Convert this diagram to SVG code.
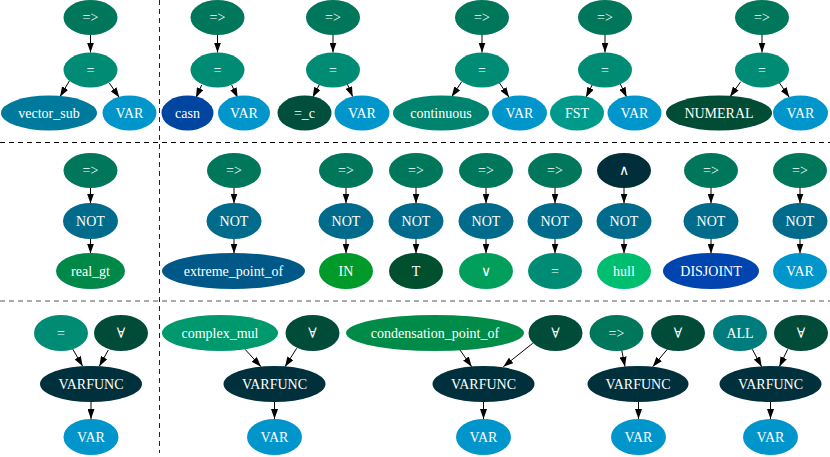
<svg xmlns="http://www.w3.org/2000/svg" width="830" height="457" viewBox="0 0 830 457" font-family="Liberation Serif" font-size="14">
<defs>
<marker id="ah" markerWidth="10" markerHeight="7" refX="10" refY="3.5" orient="auto" markerUnits="userSpaceOnUse">
<path d="M0,0 L10,3.5 L0,7 z" fill="#000"/>
</marker>
<style>
text{fill:#fff;text-anchor:middle;dominant-baseline:central;font-family:'Liberation Serif','DejaVu Serif',serif}
.e line{stroke:#000;stroke-width:1;marker-end:url(#ah)}
.sep{stroke-width:1;stroke-dasharray:5,4;fill:none}
.imp{fill:#00775a}.eq{fill:#008c74}.var{fill:#0096cc}.not{fill:#006b8a}.vf{fill:#00303c}.all{fill:#004c38}
</style>
</defs>
<g id="separators">
<line class="sep" stroke="#222" x1="159.5" y1="0" x2="159.5" y2="453"/>
<line class="sep" stroke="#000" x1="0" y1="142.5" x2="830" y2="142.5"/>
<line class="sep" stroke="#555" x1="0" y1="301" x2="830" y2="301"/>
</g>
<g class="e" id="connectors">
<line x1="90.5" y1="35" x2="90.5" y2="52.5"/>
<line x1="69.3" y1="81" x2="60" y2="96.7"/>
<line x1="109.3" y1="83" x2="119.3" y2="97.5"/>
<line x1="217.5" y1="35" x2="217.5" y2="52.5"/>
<line x1="201.7" y1="85" x2="196" y2="97.7"/>
<line x1="231.7" y1="85" x2="237.7" y2="97.7"/>
<line x1="333" y1="35" x2="333" y2="52.5"/>
<line x1="320" y1="83.3" x2="312.7" y2="97.3"/>
<line x1="347.3" y1="84" x2="352.7" y2="96.7"/>
<line x1="482" y1="35" x2="482" y2="52.5"/>
<line x1="461.7" y1="81.7" x2="451.7" y2="96.7"/>
<line x1="499.3" y1="82.7" x2="509" y2="97.3"/>
<line x1="605" y1="35" x2="605" y2="52.5"/>
<line x1="593.3" y1="82.7" x2="586" y2="97.3"/>
<line x1="620" y1="83.3" x2="626.7" y2="97.3"/>
<line x1="762" y1="35" x2="762" y2="52.5"/>
<line x1="740.7" y1="81.7" x2="730" y2="96.7"/>
<line x1="779.3" y1="82.7" x2="789.3" y2="97.3"/>
<line x1="90.5" y1="188" x2="90.5" y2="203.5"/>
<line x1="90.5" y1="239" x2="90.5" y2="253.5"/>
<line x1="234" y1="188" x2="234" y2="203.5"/>
<line x1="234" y1="239" x2="234" y2="253.5"/>
<line x1="346" y1="188" x2="346" y2="203.5"/>
<line x1="346" y1="239" x2="346" y2="253.5"/>
<line x1="416" y1="188" x2="416" y2="203.5"/>
<line x1="416" y1="239" x2="416" y2="253.5"/>
<line x1="486" y1="188" x2="486" y2="203.5"/>
<line x1="486" y1="239" x2="486" y2="253.5"/>
<line x1="555" y1="188" x2="555" y2="203.5"/>
<line x1="555" y1="239" x2="555" y2="253.5"/>
<line x1="624" y1="188" x2="624" y2="203.5"/>
<line x1="624" y1="239" x2="624" y2="253.5"/>
<line x1="711" y1="188" x2="711" y2="203.5"/>
<line x1="711" y1="239" x2="711" y2="253.5"/>
<line x1="800" y1="188" x2="800" y2="203.5"/>
<line x1="800" y1="239" x2="800" y2="253.5"/>
<line x1="72.7" y1="349" x2="82.7" y2="366.3"/>
<line x1="108.3" y1="350" x2="99.3" y2="366.3"/>
<line x1="91" y1="402" x2="91" y2="419"/>
<line x1="245" y1="349.3" x2="261" y2="366.7"/>
<line x1="296.7" y1="348.3" x2="285" y2="366.7"/>
<line x1="274.5" y1="402" x2="274.5" y2="419"/>
<line x1="460" y1="350" x2="471.7" y2="366.7"/>
<line x1="532.7" y1="343.3" x2="503.3" y2="366.7"/>
<line x1="483.5" y1="402" x2="483.5" y2="419"/>
<line x1="621.7" y1="350" x2="625" y2="366.7"/>
<line x1="667.3" y1="349.3" x2="652.7" y2="366.7"/>
<line x1="638.5" y1="402" x2="638.5" y2="419"/>
<line x1="752.3" y1="349.3" x2="761.7" y2="366.7"/>
<line x1="787.7" y1="349.3" x2="779.3" y2="366.7"/>
<line x1="770.5" y1="402" x2="770.5" y2="419"/>
</g>
<g id="r1t1_imp"><ellipse class="imp" cx="90.5" cy="17.5" rx="27" ry="17.5"/><text x="90.5" y="17.5">=&gt;</text></g>
<g id="r1t1_eq"><ellipse class="eq" cx="90.5" cy="70" rx="27" ry="17.5"/><text x="90.5" y="70">=</text></g>
<g id="r1t1_vector_sub"><ellipse fill="#007a9c" cx="49" cy="113" rx="48" ry="17.5"/><text x="49" y="113">vector_sub</text></g>
<g id="r1t1_var"><ellipse class="var" cx="129.5" cy="113" rx="27" ry="17.5"/><text x="129.5" y="113">VAR</text></g>

<g id="r1t2_imp"><ellipse class="imp" cx="217.5" cy="17.5" rx="27" ry="17.5"/><text x="217.5" y="17.5">=&gt;</text></g>
<g id="r1t2_eq"><ellipse class="eq" cx="217.5" cy="70" rx="27" ry="17.5"/><text x="217.5" y="70">=</text></g>
<g id="r1t2_casn"><ellipse fill="#0045a0" cx="187.5" cy="113" rx="26" ry="17.5"/><text x="187.5" y="113">casn</text></g>
<g id="r1t2_var"><ellipse class="var" cx="244" cy="113" rx="26" ry="17.5"/><text x="244" y="113">VAR</text></g>

<g id="r1t3_imp"><ellipse class="imp" cx="333" cy="17.5" rx="27" ry="17.5"/><text x="333" y="17.5">=&gt;</text></g>
<g id="r1t3_eq"><ellipse class="eq" cx="333" cy="70" rx="27" ry="17.5"/><text x="333" y="70">=</text></g>
<g id="r1t3_eqc"><ellipse fill="#004e3c" cx="304.5" cy="113" rx="27" ry="17.5"/><text x="304.5" y="113">=_c</text></g>
<g id="r1t3_var"><ellipse class="var" cx="362" cy="113" rx="27.5" ry="17.5"/><text x="362" y="113">VAR</text></g>

<g id="r1t4_imp"><ellipse class="imp" cx="482" cy="17.5" rx="27" ry="17.5"/><text x="482" y="17.5">=&gt;</text></g>
<g id="r1t4_eq"><ellipse class="eq" cx="482" cy="70" rx="27" ry="17.5"/><text x="482" y="70">=</text></g>
<g id="r1t4_continuous"><ellipse fill="#008470" cx="441" cy="113" rx="48" ry="17.5"/><text x="441" y="113">continuous</text></g>
<g id="r1t4_var"><ellipse class="var" cx="519.5" cy="113" rx="27.5" ry="17.5"/><text x="519.5" y="113">VAR</text></g>

<g id="r1t5_imp"><ellipse class="imp" cx="605" cy="17.5" rx="27" ry="17.5"/><text x="605" y="17.5">=&gt;</text></g>
<g id="r1t5_eq"><ellipse class="eq" cx="605" cy="70" rx="27" ry="17.5"/><text x="605" y="70">=</text></g>
<g id="r1t5_fst"><ellipse fill="#009a8c" cx="577" cy="113" rx="27" ry="17.5"/><text x="577" y="113">FST</text></g>
<g id="r1t5_var"><ellipse class="var" cx="634.5" cy="113" rx="27" ry="17.5"/><text x="634.5" y="113">VAR</text></g>

<g id="r1t6_imp"><ellipse class="imp" cx="762" cy="17.5" rx="27" ry="17.5"/><text x="762" y="17.5">=&gt;</text></g>
<g id="r1t6_eq"><ellipse class="eq" cx="762" cy="70" rx="27" ry="17.5"/><text x="762" y="70">=</text></g>
<g id="r1t6_numeral"><ellipse fill="#004c34" cx="719" cy="113" rx="53" ry="17.5"/><text x="719" y="113">NUMERAL</text></g>
<g id="r1t6_var"><ellipse class="var" cx="800.5" cy="113" rx="27.5" ry="17.5"/><text x="800.5" y="113">VAR</text></g>

<g id="r2t1_imp"><ellipse class="imp" cx="90.5" cy="170.5" rx="27" ry="17.5"/><text x="90.5" y="170.5">=&gt;</text></g>
<g id="r2t1_not"><ellipse class="not" cx="90.5" cy="221" rx="27.5" ry="18"/><text x="90.5" y="221">NOT</text></g>
<g id="r2t1_real_gt"><ellipse fill="#008848" cx="90.5" cy="271" rx="34.5" ry="18"/><text x="90.5" y="271">real_gt</text></g>

<g id="r2t2_imp"><ellipse class="imp" cx="234" cy="170.5" rx="27" ry="17.5"/><text x="234" y="170.5">=&gt;</text></g>
<g id="r2t2_not"><ellipse class="not" cx="234" cy="221" rx="27.5" ry="18"/><text x="234" y="221">NOT</text></g>
<g id="r2t2_extreme"><ellipse fill="#005888" cx="233.5" cy="271" rx="71.5" ry="18"/><text x="233.5" y="271">extreme_point_of</text></g>

<g id="r2t3_imp"><ellipse class="imp" cx="346" cy="170.5" rx="27" ry="17.5"/><text x="346" y="170.5">=&gt;</text></g>
<g id="r2t3_not"><ellipse class="not" cx="346" cy="221" rx="27.5" ry="18"/><text x="346" y="221">NOT</text></g>
<g id="r2t3_in"><ellipse fill="#009a2a" cx="346" cy="271" rx="27" ry="18"/><text x="346" y="271">IN</text></g>

<g id="r2t4_imp"><ellipse class="imp" cx="416" cy="170.5" rx="27" ry="17.5"/><text x="416" y="170.5">=&gt;</text></g>
<g id="r2t4_not"><ellipse class="not" cx="416" cy="221" rx="27.5" ry="18"/><text x="416" y="221">NOT</text></g>
<g id="r2t4_t"><ellipse fill="#005030" cx="416" cy="271" rx="27" ry="18"/><text x="416" y="271">T</text></g>

<g id="r2t5_imp"><ellipse class="imp" cx="486" cy="170.5" rx="27" ry="17.5"/><text x="486" y="170.5">=&gt;</text></g>
<g id="r2t5_not"><ellipse class="not" cx="486" cy="221" rx="27.5" ry="18"/><text x="486" y="221">NOT</text></g>
<g id="r2t5_or"><ellipse fill="#00a05c" cx="486" cy="271" rx="27" ry="18"/><text x="486" y="271">∨</text></g>

<g id="r2t6_imp"><ellipse class="imp" cx="555" cy="170.5" rx="27" ry="17.5"/><text x="555" y="170.5">=&gt;</text></g>
<g id="r2t6_not"><ellipse class="not" cx="555" cy="221" rx="27.5" ry="18"/><text x="555" y="221">NOT</text></g>
<g id="r2t6_eq"><ellipse class="eq" cx="555" cy="271" rx="27" ry="18"/><text x="555" y="271">=</text></g>

<g id="r2t7_and"><ellipse fill="#002e3a" cx="624" cy="170.5" rx="27" ry="17.5"/><text x="624" y="170.5">∧</text></g>
<g id="r2t7_not"><ellipse class="not" cx="624" cy="221" rx="27.5" ry="18"/><text x="624" y="221">NOT</text></g>
<g id="r2t7_hull"><ellipse fill="#00be70" cx="624" cy="271" rx="27" ry="18"/><text x="624" y="271">hull</text></g>

<g id="r2t8_imp"><ellipse class="imp" cx="711" cy="170.5" rx="27" ry="17.5"/><text x="711" y="170.5">=&gt;</text></g>
<g id="r2t8_not"><ellipse class="not" cx="711" cy="221" rx="27.5" ry="18"/><text x="711" y="221">NOT</text></g>
<g id="r2t8_disjoint"><ellipse fill="#0044b0" cx="711" cy="271" rx="48" ry="18"/><text x="711" y="271">DISJOINT</text></g>

<g id="r2t9_imp"><ellipse class="imp" cx="800" cy="170.5" rx="27" ry="17.5"/><text x="800" y="170.5">=&gt;</text></g>
<g id="r2t9_not"><ellipse class="not" cx="800" cy="221" rx="27.5" ry="18"/><text x="800" y="221">NOT</text></g>
<g id="r2t9_var"><ellipse class="var" cx="800" cy="271" rx="27" ry="18"/><text x="800" y="271">VAR</text></g>

<g id="r3t1_eq"><ellipse class="eq" cx="61" cy="333" rx="27" ry="18"/><text x="61" y="333">=</text></g>
<g id="r3t1_forall"><ellipse class="all" cx="121" cy="333" rx="27" ry="18"/><text x="121" y="333">∀</text></g>
<g id="r3t1_varfunc"><ellipse class="vf" cx="91" cy="384" rx="51" ry="18"/><text x="91" y="384">VARFUNC</text></g>
<g id="r3t1_var"><ellipse class="var" cx="91" cy="437" rx="27.5" ry="18"/><text x="91" y="437">VAR</text></g>

<g id="r3t2_complex_mul"><ellipse fill="#00996e" cx="220" cy="333" rx="58" ry="18"/><text x="220" y="333">complex_mul</text></g>
<g id="r3t2_forall"><ellipse class="all" cx="312.5" cy="333" rx="27" ry="18"/><text x="312.5" y="333">∀</text></g>
<g id="r3t2_varfunc"><ellipse class="vf" cx="274.5" cy="384" rx="51" ry="18"/><text x="274.5" y="384">VARFUNC</text></g>
<g id="r3t2_var"><ellipse class="var" cx="274.5" cy="437" rx="27.5" ry="18"/><text x="274.5" y="437">VAR</text></g>

<g id="r3t3_condensation"><ellipse fill="#008c48" cx="435" cy="333" rx="89" ry="18"/><text x="435" y="333">condensation_point_of</text></g>
<g id="r3t3_forall"><ellipse class="all" cx="555.5" cy="333" rx="27" ry="18"/><text x="555.5" y="333">∀</text></g>
<g id="r3t3_varfunc"><ellipse class="vf" cx="483.5" cy="384" rx="51" ry="18"/><text x="483.5" y="384">VARFUNC</text></g>
<g id="r3t3_var"><ellipse class="var" cx="483.5" cy="437" rx="27.5" ry="18"/><text x="483.5" y="437">VAR</text></g>

<g id="r3t4_imp"><ellipse class="imp" cx="616.5" cy="333" rx="27" ry="18"/><text x="616.5" y="333">=&gt;</text></g>
<g id="r3t4_forall"><ellipse class="all" cx="678" cy="333" rx="27" ry="18"/><text x="678" y="333">∀</text></g>
<g id="r3t4_varfunc"><ellipse class="vf" cx="638" cy="384" rx="50.5" ry="18"/><text x="638" y="384">VARFUNC</text></g>
<g id="r3t4_var"><ellipse class="var" cx="638.5" cy="437" rx="27.5" ry="18"/><text x="638.5" y="437">VAR</text></g>

<g id="r3t5_all"><ellipse fill="#007c7c" cx="740" cy="333" rx="27" ry="18"/><text x="740" y="333">ALL</text></g>
<g id="r3t5_forall"><ellipse class="all" cx="801" cy="333" rx="27" ry="18"/><text x="801" y="333">∀</text></g>
<g id="r3t5_varfunc"><ellipse class="vf" cx="770.5" cy="384" rx="51" ry="18"/><text x="770.5" y="384">VARFUNC</text></g>
<g id="r3t5_var"><ellipse class="var" cx="770.5" cy="437" rx="27.5" ry="18"/><text x="770.5" y="437">VAR</text></g>
</svg>
